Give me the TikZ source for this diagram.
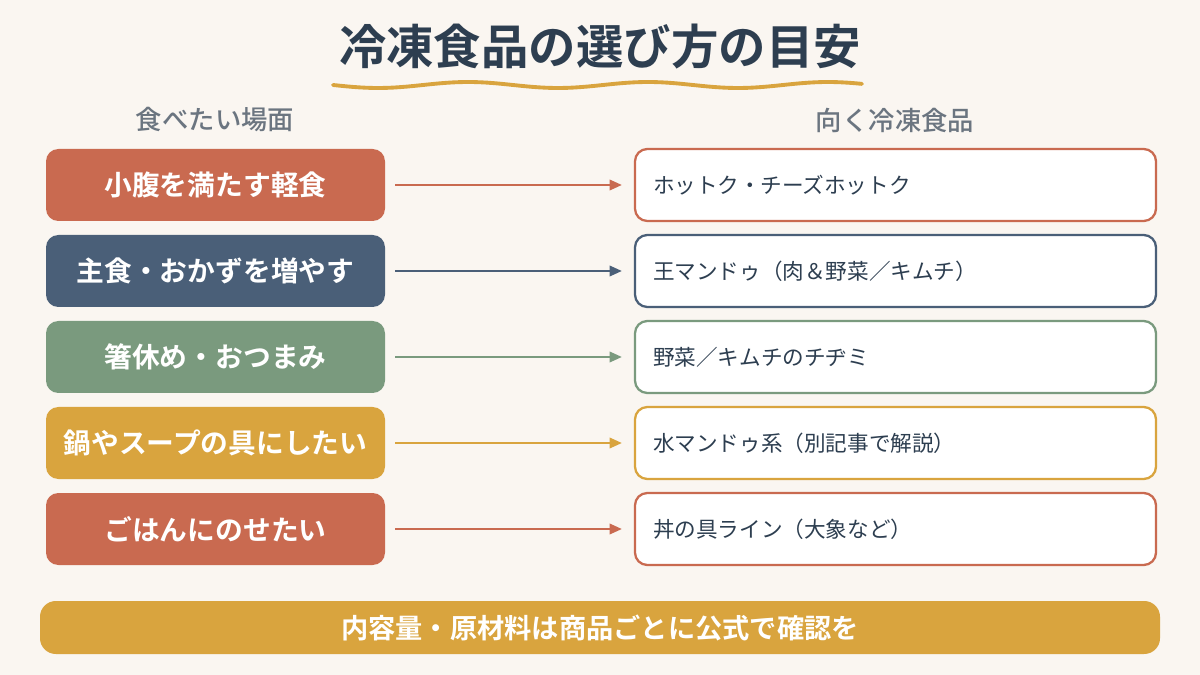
\documentclass[tikz,border=0pt]{standalone}
\usepackage{fontspec}
\setmainfont{Noto Sans CJK JP}[BoldFont={Noto Sans CJK JP Bold}]
\newfontfamily\midfont{Noto Sans CJK JP Medium}
\usetikzlibrary{arrows.meta,calc,positioning}
\definecolor{bgcol}{HTML}{FAF6F1}
\definecolor{navy}{HTML}{2D3E50}
\definecolor{terra}{HTML}{C96A50}
\definecolor{slate}{HTML}{4A5F78}
\definecolor{sage}{HTML}{7A9A7E}
\definecolor{gold}{HTML}{D9A43E}
\definecolor{greytxt}{HTML}{6B7580}
\tikzset{
  scene/.style={rounded corners=7pt, minimum width=339\unit, minimum height=72\unit, text=white, font=\fontsize{15.8}{18}\selectfont\bfseries},
  food/.style={rounded corners=7pt, draw, line width=1.3pt, fill=white, minimum width=521\unit, minimum height=72\unit, text=navy, align=left, text width=485\unit, font=\fontsize{12.3}{14}\selectfont},
  head/.style={text=greytxt, font=\fontsize{15}{17}\selectfont\midfont},
  link/.style={-{Triangle[length=7pt,width=6pt]}, line width=1.1pt}
}
\newcommand{\unit}{*0.02cm}
\begin{document}
\begin{tikzpicture}[x=0.02cm,y=-0.02cm]
    \fill[bgcol] (0,0) rectangle (1200,675);
    \useasboundingbox (0,0) rectangle (1200,675);
    % title
    \node[text=navy, font=\fontsize{27}{30}\selectfont\bfseries] (title) at (600,47) {冷凍食品の選び方の目安};
    \draw[gold, line width=2.2pt, line cap=round] plot[domain=333:862, samples=80] (\x,{85+3*sin(2*(\x-333))});
    % column heads
    \node[head] (lefthead) at (215,120) {食べたい場面};
    \node[head] (righthead) at (895,120) {向く冷凍食品};
    % rows
    \foreach \i/\col/\scn/\fd in {0/terra/小腹を満たす軽食/ホットク・チーズホットク,
        1/slate/主食・おかずを増やす/王マンドゥ（肉＆野菜／キムチ）,
        2/sage/箸休め・おつまみ/野菜／キムチのチヂミ,
        3/gold/鍋やスープの具にしたい/水マンドゥ系（別記事で解説）,
        4/terra/ごはんにのせたい/丼の具ライン（大象など）}{
      \node[scene, fill=\col] (scene\i) at (215.5,185+86*\i) {\scn};
      \node[food, draw=\col] (food\i) at (895.5,185+86*\i) {\fd};
      \draw[link, \col] ($(scene\i.east)+(10,0)$) coordinate (start\i) -- ($(food\i.west)+(-12,0)$);
    }
    % footer
    \node[rounded corners=9pt, fill=gold, minimum width=1120\unit, minimum height=53\unit, text=white, font=\fontsize{15.5}{17}\selectfont\bfseries] (note) at (600,627.5) {内容量・原材料は商品ごとに公式で確認を};
\end{tikzpicture}
\end{document}
